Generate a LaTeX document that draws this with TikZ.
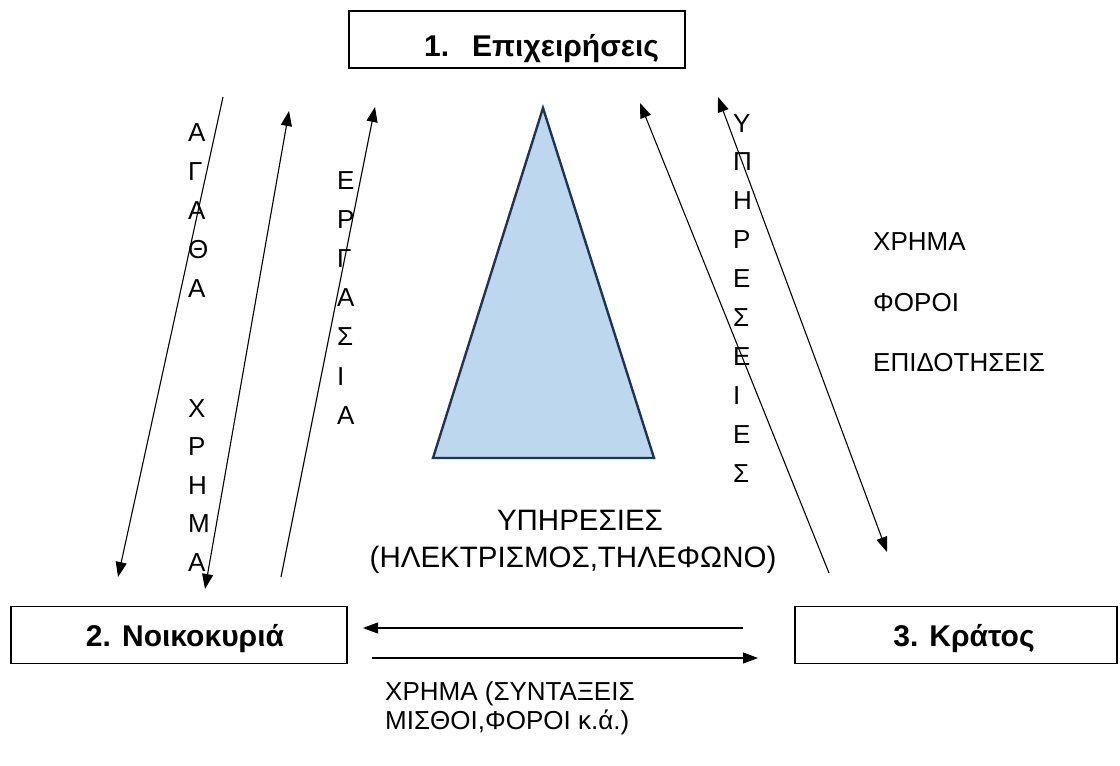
\documentclass[tikz,border=0pt]{standalone}
\usepackage{fontspec}
\setmainfont{Liberation Sans}
\usetikzlibrary{arrows.meta}
\definecolor{trifill}{HTML}{BDD7EE}
\definecolor{tridraw}{HTML}{1F3557}
\begin{document}
\begin{tikzpicture}[x=1pt,y=-1pt,
 box/.style={draw,line width=1.2pt,inner sep=0pt,minimum width=336pt,minimum height=57pt},
 boxlabel/.style={font=\fontsize{30}{34}\selectfont\bfseries,inner sep=0pt,anchor=base},
 vl/.style={font=\fontsize{26}{30}\selectfont,inner sep=0pt,anchor=base west},
 lbl/.style={font=\fontsize{26}{30}\selectfont,inner sep=0pt,anchor=base west},
 midlbl/.style={font=\fontsize{29.5}{34}\selectfont,inner sep=0pt,anchor=base},
 flow/.style={line width=1.1pt,-{Triangle[length=15pt,width=11pt]}},
 flowtwo/.style={line width=1.1pt,{Triangle[length=15pt,width=11pt]}-{Triangle[length=15pt,width=11pt]}}]
\useasboundingbox (0,0) rectangle (1120,766);

% boxes
\node[box] (b1) at (517,39.5) {};
\node[boxlabel,anchor=base west] (t1) at (424,56) {1.\hspace{23pt}Επιχειρήσεις};
\node[box] (b2) at (179,635) {};
\node[boxlabel] (t2) at (185,646) {2. Νοικοκυριά};
\node[box,minimum width=322pt] (b3) at (956,635) {};
\node[boxlabel] (t3) at (964,646) {3. Κράτος};

% triangle
\coordinate (ta) at (543,108);
\coordinate (tl) at (433,458);
\coordinate (tr) at (654,458);
\filldraw[fill=trifill,draw=tridraw,line width=2.4pt,line join=miter] (ta) -- (tl) -- (tr) -- cycle;

% arrow end points
\coordinate (a1s) at (223,97);   \coordinate (a1e) at (118,577);
\coordinate (a2s) at (205,589);  \coordinate (a2e) at (289,111);
\coordinate (a3s) at (281,577);  \coordinate (a3e) at (375,107);
\coordinate (a4s) at (829,573);  \coordinate (a4e) at (640,103);
\coordinate (a5s) at (718,97);   \coordinate (a5e) at (887,552);
\coordinate (a6s) at (743,628);  \coordinate (a6e) at (363,628);
\coordinate (a7s) at (372,658);  \coordinate (a7e) at (758,658);

\draw[flow] (a1s) -- (a1e);
\draw[flowtwo] (a2s) -- (a2e);
\draw[flow] (a3s) -- (a3e);
\draw[flow] (a4s) -- (a4e);
\draw[flowtwo] (a5s) -- (a5e);
\draw[flow] (a6s) -- (a6e);
\draw[flow] (a7s) -- (a7e);

% vertical words
\foreach \l [count=\i from 0] in {Α,Γ,Α,Θ,Α}
  \node[vl] (ag\i) at (188,{141+39*\i}) {\l};
\foreach \l [count=\i from 0] in {Χ,Ρ,Η,Μ,Α}
  \node[vl] (xr\i) at (188,{417+38.6*\i}) {\l};
\foreach \l [count=\i from 0] in {Ε,Ρ,Γ,Α,Σ,Ι,Α}
  \node[vl] (er\i) at (337,{189+39.2*\i}) {\l};
\foreach \l [count=\i from 0] in {Υ,Π,Η,Ρ,Ε,Σ,Ε,Ι,Ε,Σ}
  \node[vl] (yp\i) at (733,{132+38.9*\i}) {\l};

% right column
\node[lbl] (r1) at (873,250) {ΧΡΗΜΑ};
\node[lbl] (r2) at (873,311) {ΦΟΡΟΙ};
\node[lbl] (r3) at (873,371) {ΕΠΙΔΟΤΗΣΕΙΣ};

% middle
\node[midlbl] (m1) at (580,530) {ΥΠΗΡΕΣΙΕΣ};
\node[midlbl] (m2) at (573,567) {(ΗΛΕΚΤΡΙΣΜΟΣ,ΤΗΛΕΦΩΝΟ)};

% bottom
\node[lbl] (bt1) at (385,700) {ΧΡΗΜΑ (ΣΥΝΤΑΞΕΙΣ};
\node[lbl] (bt2) at (385,729) {ΜΙΣΘΟΙ,ΦΟΡΟΙ κ.ά.)};
\end{tikzpicture}
\end{document}
